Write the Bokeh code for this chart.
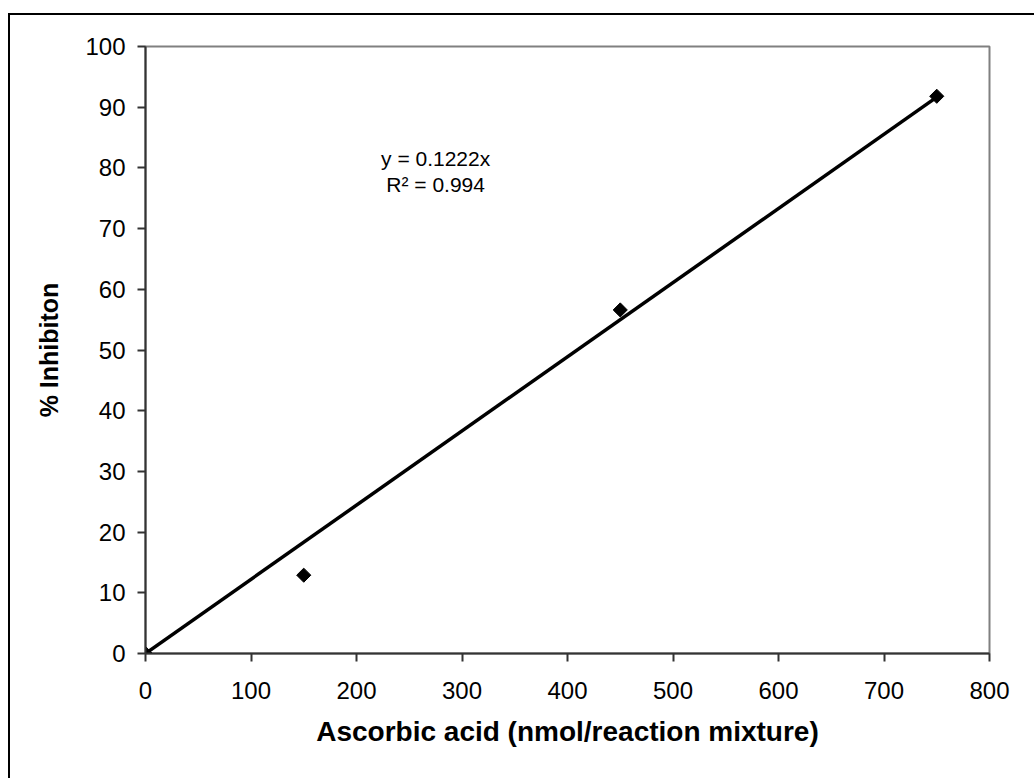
import math

from bokeh.plotting import figure
from bokeh.models import Label, Range1d, FixedTicker
from bokeh.embed import file_html
from bokeh.resources import INLINE

# Measured inhibition against ascorbic acid amount
ascorbic_nmol = [0, 150, 450, 750]
inhibition_pct = [0, 12.9, 56.6, 91.8]

# Linear trendline through the origin
slope = 0.1222
r_squared = 0.994

x_ticks = [0, 100, 200, 300, 400, 500, 600, 700, 800]
y_ticks = [0, 10, 20, 30, 40, 50, 60, 70, 80, 90, 100]

x_title = "Ascorbic acid (nmol/reaction mixture)"
y_title = "% Inhibiton"
eq_lines = [f"y = {slope}x", f"R\u00b2 = {r_squared}"]

FONT = "Liberation Sans"
AXIS_DARK = "#333333"
FRAME_GRAY = "#808080"

p = figure(
    width=1024, height=763,
    output_backend="svg", toolbar_location=None,
    x_range=Range1d(0, 800), y_range=Range1d(0, 100),
    min_border_left=135, min_border_right=47,
    min_border_top=31, min_border_bottom=127,
    background_fill_color="white", border_fill_color="white",
)

# Chart-area border (left and top edges sit inside the page)
p.styles = {
    "margin-left": "8px",
    "margin-top": "13px",
    "border-left": "2px solid black",
    "border-top": "2px solid black",
    "box-sizing": "content-box",
}

p.xgrid.visible = False
p.ygrid.visible = False
p.outline_line_color = FRAME_GRAY
p.outline_line_width = 2

for ax, ticks in ((p.xaxis, x_ticks), (p.yaxis, y_ticks)):
    ax.ticker = FixedTicker(ticks=ticks)
    ax.minor_tick_line_color = None
    ax.major_tick_in = 0
    ax.major_tick_out = 8
    ax.major_tick_line_color = AXIS_DARK
    ax.major_tick_line_width = 2
    ax.axis_line_color = AXIS_DARK
    ax.axis_line_width = 2
    ax.major_label_text_font = FONT
    ax.major_label_text_font_size = "24px"
    ax.major_label_text_color = "black"
    ax.axis_label_text_font = FONT
    ax.axis_label_text_font_style = "bold"
    ax.axis_label_text_color = "black"

p.xaxis.axis_label = x_title
p.yaxis.axis_label = y_title
p.xaxis.axis_label_text_font_size = "28px"
p.yaxis.axis_label_text_font_size = "25px"
p.xaxis.major_label_standoff = 20
p.yaxis.major_label_standoff = 12
p.xaxis.axis_label_standoff = 14
p.yaxis.axis_label_standoff = 19

# Trendline over the measured range
x0, x1 = min(ascorbic_nmol), max(ascorbic_nmol)
p.line(x=[x0, x1], y=[slope * x0, slope * x1], line_color="black", line_width=3.5)

# Data points as diamonds
p.scatter(x=ascorbic_nmol, y=inhibition_pct, marker="square", angle=math.pi / 4,
          size=10, fill_color="black", line_color="black")

# Trendline equation
eq_x = 275
for text, ypos in zip(eq_lines, (81.6, 77.3)):
    p.add_layout(Label(x=eq_x, y=ypos, text=text, text_align="center",
                       text_baseline="middle", text_font=FONT,
                       text_font_size="21px", text_color="black"))

open("out.html", "w").write(file_html(p, INLINE))
